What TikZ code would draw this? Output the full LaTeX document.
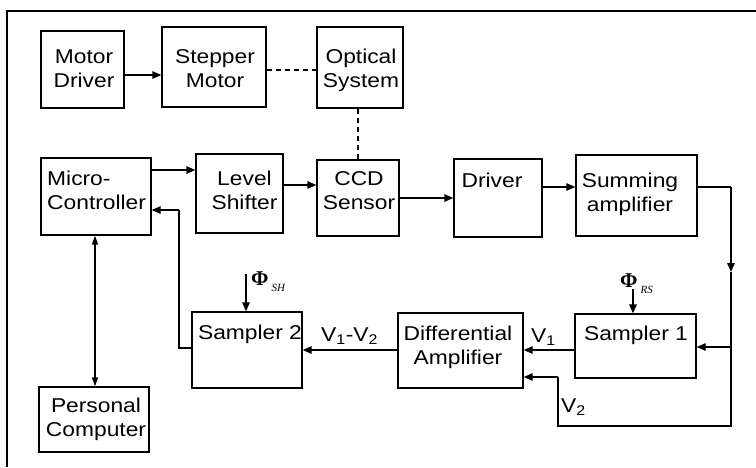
\documentclass[tikz,border=0pt]{standalone}
\usepackage{fontspec}
\newfontfamily\lsans{Liberation Sans}[FakeStretch=1.14]
\newfontfamily\lserif{Liberation Serif}
\usetikzlibrary{arrows.meta}
\newcommand\phisub[1]{{\lserif\bfseries\fontsize{21}{21}\selectfont Φ}\hspace{3pt}\raisebox{-6pt}{\lserif\itshape\fontsize{11}{11}\selectfont #1}}
\begin{document}
\begin{tikzpicture}[x=1pt,y=-1pt,
  box/.style={draw, line width=1.4pt, inner sep=0pt},
  txt/.style={font=\lsans\fontsize{20}{24}\selectfont, align=center, inner sep=0pt, anchor=north},
  lbl/.style={font=\lsans\fontsize{20}{24}\selectfont, inner sep=0pt, anchor=base west},
  conn/.style={line width=1.4pt},
  arr/.style={conn, -{Triangle[length=9pt,width=7.5pt]}},
  darr/.style={conn, {Triangle[length=9pt,width=6pt]}-{Triangle[length=9pt,width=6pt]}},
  dashline/.style={line width=1.4pt, dash pattern=on 5pt off 4pt}]
\useasboundingbox (0,0) rectangle (756,467);
% open frame
\draw[line width=1.4pt] (756,11) -- (7,11) -- (7,467);
% boxes
\node[box, minimum width=83pt, minimum height=77pt] (md) at (82.5,69.5) {};
\node[box, minimum width=104pt, minimum height=80pt] (sm) at (214,67) {};
\node[box, minimum width=86pt, minimum height=81pt] (os) at (360,67.5) {};
\node[box, minimum width=110pt, minimum height=77pt] (mc) at (96,196.5) {};
\node[box, minimum width=87pt, minimum height=79pt] (ls) at (239.5,193.5) {};
\node[box, minimum width=82pt, minimum height=76pt] (ccd) at (358,198) {};
\node[box, minimum width=88pt, minimum height=78pt] (drv) at (498,198) {};
\node[box, minimum width=121pt, minimum height=81pt] (sa) at (636.5,195.5) {};
\node[box, minimum width=121pt, minimum height=64pt] (s1) at (635.5,346) {};
\node[box, minimum width=125pt, minimum height=75pt] (da) at (460.5,350.5) {};
\node[box, minimum width=110pt, minimum height=76pt] (s2) at (247,350) {};
\node[box, minimum width=110pt, minimum height=65pt] (pc) at (94,419.5) {};
% texts
\node[txt] (tmd) at (84,46.2) {\strut Motor\\Driver};
\node[txt] (tsm) at (215,46.2) {\strut Stepper\\Motor};
\node[txt] (tos) at (361,46.2) {\strut Optical\\System};
\node[txt, align=left, anchor=north west] (tmc) at (47,168.2) {\strut Micro-\\Controller};
\node[txt] (tls) at (244.5,168.2) {\strut Level\\Shifter};
\node[txt] (tccd) at (359,168.2) {\strut CCD\\Sensor};
\node[txt] (tdrv) at (492,170.2) {\strut Driver};
\node[txt] (tsa) at (630,170.2) {\strut Summing\\amplifier};
\node[txt] (tda) at (458,323.2) {\strut Differential\\Amplifier};
\node[txt] (ts1) at (636,323.2) {\strut Sampler 1};
\node[txt] (ts2) at (250,322.2) {\strut Sampler 2};
\node[txt] (tpc) at (96,395.2) {\strut Personal\\Computer};
% helper coordinates
\coordinate (y75) at (0,75);
\coordinate (y70) at (0,70);
\coordinate (y170) at (0,170);
\coordinate (y185) at (0,185);
\coordinate (y198) at (0,198);
\coordinate (y187) at (0,187);
\coordinate (y350) at (0,350);
\coordinate (r1) at (731,187);
\coordinate (r2) at (731,272);
\coordinate (r3) at (731,347);
\coordinate (r4) at (731,426);
\coordinate (r5) at (558,426);
\coordinate (r6) at (558,377);
\coordinate (f1) at (179,348);
\coordinate (f2) at (179,210);
\coordinate (p1) at (246,274);
\coordinate (p2) at (633,289);
\coordinate (xpc) at (95,0);
% connectors
\draw[arr] (md.east |- y75) -- (sm.west |- y75);
\draw[dashline] (sm.east |- y70) -- (os.west |- y70);
\draw[dashline] (ccd.north |- os.south) -- (ccd.north);
\draw[arr] (mc.east |- y170) -- (ls.west |- y170);
\draw[arr] (ls.east |- y185) -- (ccd.west |- y185);
\draw[arr] (ccd.east |- y198) -- (drv.west |- y198);
\draw[arr] (drv.east |- y187) -- (sa.west |- y187);
\draw[conn] (sa.east |- r1) -- (r1);
\draw[arr] (r1) -- (r2);
\draw[conn] (r2) -- (r4) -- (r5) -- (r6);
\draw[arr] (r6) -- (da.east |- r6);
\draw[arr] (r3) -- (s1.east |- r3);
\draw[arr] (s1.west |- y350) -- (da.east |- y350);
\draw[arr] (da.west |- y350) -- (s2.east |- y350);
\draw[conn] (s2.west |- f1) -- (f1) -- (f2);
\draw[arr] (f2) -- (mc.east |- f2);
\draw[darr] (xpc |- mc.south) -- (xpc |- pc.north);
\draw[arr] (p1) -- (p1 |- s2.north);
\draw[arr] (p2) -- (p2 |- s1.north);
% labels
\node[lbl] (lsh) at (251,285) {\phisub{SH}};
\node[lbl] (lrs) at (620,287) {\phisub{RS}};
\node[lbl] (lv1) at (531,342) {V\textsubscript{1}};
\node[lbl] (lv2) at (561,412) {V\textsubscript{2}};
\node[lbl] (lv12) at (321,341) {V\textsubscript{1}-V\textsubscript{2}};
\end{tikzpicture}
\end{document}
